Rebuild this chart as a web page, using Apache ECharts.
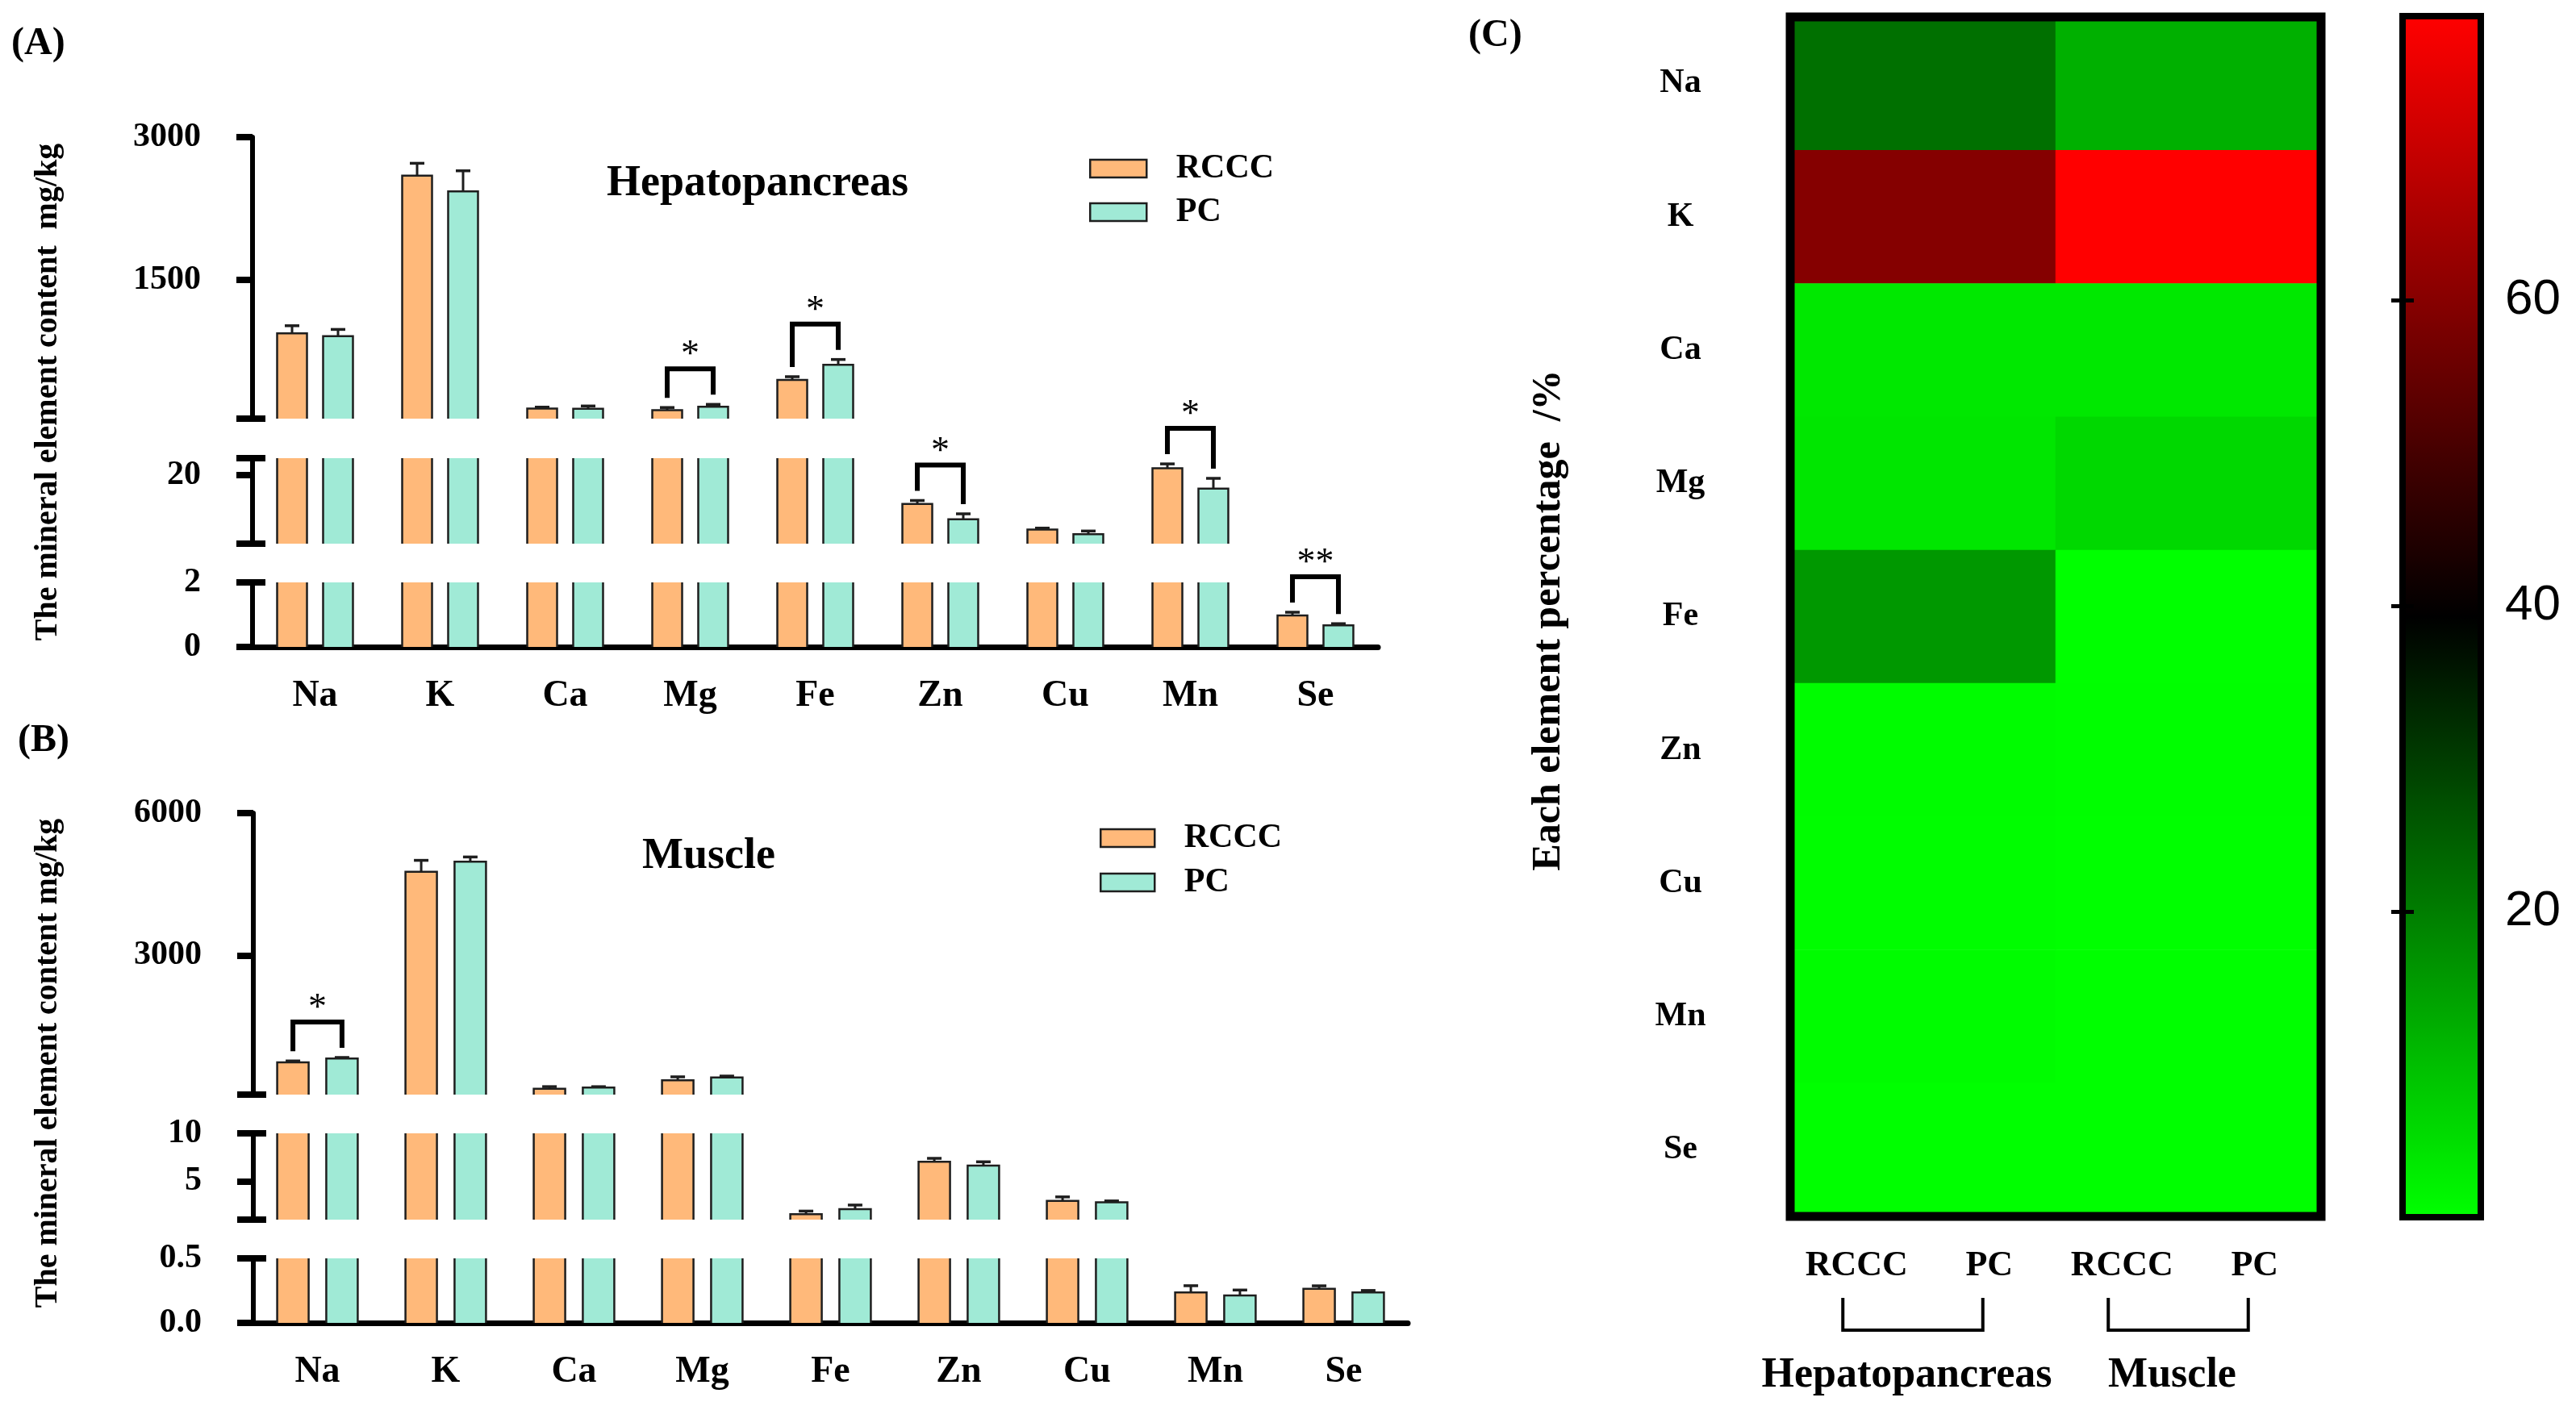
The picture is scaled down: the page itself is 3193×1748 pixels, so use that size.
<!DOCTYPE html>
<html><head><meta charset="utf-8">
<script src="https://cdn.jsdelivr.net/npm/echarts@6/dist/echarts.min.js"></script>
<style>html,body{margin:0;padding:0;background:#fff}#c{width:3193px;height:1748px}</style>
</head><body><div id="c"></div>
<script>
// ---------------- data ----------------
const elements = ['Na','K','Ca','Mg','Fe','Zn','Cu','Mn','Se'];
const groups = ['RCCC','PC'];
const hepRCCC    = [936, 2596, 146, 129, 447, 16.65, 13.66, 20.83, 0.975];
const hepRCCCErr = [81, 129, 15, 28, 34, 0.4, 0.16, 0.5, 0.1];
const hepPC      = [908, 2430, 143, 165, 606, 14.86, 13.1, 18.44, 0.67];
const hepPCErr   = [70, 216, 30, 25, 56, 0.63, 0.38, 1.2, 0.05];
const musRCCC    = [742, 4761, 183, 362, 1.56, 7.03, 2.95, 0.236, 0.264];
const musRCCCErr = [28, 242, 45, 73, 0.33, 0.36, 0.42, 0.052, 0.023];
const musPC      = [821, 4973, 210, 423, 2.1, 6.64, 2.81, 0.2125, 0.236];
const musPCErr   = [22, 101, 17, 28, 0.42, 0.39, 0.14, 0.042, 0.015];
const sigHep = ['', '', '', '*', '*', '*', '', '*', '**'];
const sigMus = ['*', '', '', '', '', '', '', '', ''];
const hepSegments   = [[40, 3000], [12, 22], [0, 2]];
const hepTickLabels = [[1500, 3000], [20], [0, 2]];
const musSegments   = [[60, 6000], [1, 10], [0, 0.5]];
const musTickLabels = [[3000, 6000], [5, 10], [0, 0.5]];
const tissues = ['Hepatopancreas', 'Muscle'];
const heatLabels = ['RCCC', 'PC', 'RCCC', 'PC'];
const heatPairs = [[0, 1], [2, 3]];
const pctHep = [22.0, 59.8, 3.5, 3.8, 15.9, 0.4, 0.3, 0.5, 0.02];
const pctMus = [12.2, 78.6, 3.5, 6.0, 0.03, 0.12, 0.05, 0.004, 0.004];
const colorMin = 0, colorMax = 78.6;
const colorTicks = [20, 40, 60];

// ---------------- style / layout ----------------
const SERIF = '"Liberation Serif","Times New Roman",serif';
const SANS = '"Liberation Sans",Arial,sans-serif';
const COLORS = ['#FFB97A', '#A0EAD6'];
const EDGE = '#1e1e1e';

const panels = [
  { left: 313, width: 1395, segs: [[170, 349], [568, 106], [722, 80]],
    ranges: hepSegments, labels: hepTickLabels, vals: [hepRCCC, hepPC], errs: [hepRCCCErr, hepPCErr],
    sig: sigHep, barW: 37, gapPct: 0.54, fmt: v => String(v), xMargin: 38 },
  { left: 314, width: 1431, segs: [[1008, 349], [1405, 107], [1560, 80]],
    ranges: musSegments, labels: musTickLabels, vals: [musRCCC, musPC], errs: [musRCCCErr, musPCErr],
    sig: sigMus, barW: 39, gapPct: 0.56, fmt: v => (v < 1 ? v.toFixed(1) : String(v)), xMargin: 38 }
];

const grid = [], xAxis = [], yAxis = [], series = [];

// bar + error bar drawn through the axis scales; the coordinate-system clip cuts it at the axis break
function barRender(side, off, barW, capHalf, fill) {
  return function (params, api) {
    const i = api.value(0), v = api.value(1), e = api.value(2);
    const pTop = api.coord([i, v]), pBase = api.coord([i, 0]), pErr = api.coord([i, v + e]);
    const x = pTop[0] + side * off;
    const xl = x - barW / 2, xr = x + barW / 2;
    return { type: 'group', children: [
      { type: 'rect', shape: { x: xl, y: pTop[1], width: barW, height: pBase[1] - pTop[1] }, style: { fill } },
      { type: 'polyline', shape: { points: [[xl, pBase[1]], [xl, pTop[1]], [xr, pTop[1]], [xr, pBase[1]]] },
        style: { stroke: EDGE, lineWidth: 2.5, fill: null } },
      { type: 'line', shape: { x1: x, y1: pTop[1], x2: x, y2: pErr[1] }, style: { stroke: EDGE, lineWidth: 3 } },
      { type: 'line', shape: { x1: x - capHalf, y1: pErr[1], x2: x + capHalf, y2: pErr[1] }, style: { stroke: EDGE, lineWidth: 3.5 } }
    ] };
  };
}
function bracketRender(off, sigs) {
  return function (params, api) {
    const i = api.value(0);
    const a = api.coord([i, api.value(1)]), b = api.coord([i, api.value(2)]);
    const xl = a[0] - off, xr = b[0] + off;
    const yl = a[1] - 12, yr = b[1] - 12;
    const yt = Math.min(yl, yr) - 32;
    return { type: 'group', children: [
      { type: 'polyline', shape: { points: [[xl, yl], [xl, yt], [xr, yt], [xr, yr]] },
        style: { stroke: '#000', lineWidth: 6, fill: null, lineJoin: 'miter' } },
      { type: 'text', x: (xl + xr) / 2, y: yt - 16,
        style: { text: sigs[i], fontSize: 46, fontFamily: SERIF, fill: '#000',
          align: 'center', verticalAlign: 'middle', textAlign: 'center', textVerticalAlign: 'middle' } }
    ] };
  };
}

panels.forEach((p) => {
  const off = (p.barW + p.barW * p.gapPct) / 2;
  const bracketSeg = elements.map((e, i) => {
    const top = Math.max(p.vals[0][i] + p.errs[0][i], p.vals[1][i] + p.errs[1][i]);
    for (let s = p.ranges.length - 1; s >= 0; s--) {
      if (top >= p.ranges[s][0] && top <= p.ranges[s][1]) return s;
    }
    return 0;
  });
  p.segs.forEach((sg, s) => {
    const g = grid.length;
    const [mn, mx] = p.ranges[s];
    grid.push({ left: p.left, width: p.width, top: sg[0], height: sg[1] });
    const isBottom = s === p.segs.length - 1;
    xAxis.push({
      type: 'category', gridIndex: g, data: elements, show: isBottom,
      axisLine: { lineStyle: { color: '#000', width: 7 } },
      axisTick: { alignWithLabel: true, length: 16, lineStyle: { color: '#000', width: 5 } },
      axisLabel: { interval: 0, fontFamily: SERIF, fontWeight: 'bold', fontSize: 46, color: '#000', margin: p.xMargin }
    });
    const outer = p.labels[s].slice();
    const inner = [];
    if (s === 0) { outer.push(mn); inner.push(mn); }
    else if (isBottom) { outer.push(mx); inner.push(mx); }
    else { outer.push(mn, mx); inner.push(mn, mx); }
    const yo = yAxis.length;
    yAxis.push({
      type: 'value', gridIndex: g, min: mn, max: mx, position: 'left',
      axisLine: { show: true, lineStyle: { color: '#000', width: 6 } },
      axisTick: { show: true, length: 20, customValues: outer, lineStyle: { color: '#000', width: 8 } },
      axisLabel: { customValues: p.labels[s], formatter: p.fmt, fontFamily: SERIF, fontWeight: 'bold',
        fontSize: 42, color: '#000', margin: 64 },
      splitLine: { show: false }
    });
    yAxis.push({
      type: 'value', gridIndex: g, min: mn, max: mx, position: 'left',
      axisLine: { show: false },
      axisTick: { show: true, inside: true, length: 16, customValues: inner, lineStyle: { color: '#000', width: 8 } },
      axisLabel: { show: false }, splitLine: { show: false }
    });
    groups.forEach((nm, k) => {
      series.push({ type: 'custom', name: nm, xAxisIndex: g, yAxisIndex: yo, clip: true, silent: true,
        encode: { x: 0, y: 1 },
        lineStyle: { width: 0.01 },
        itemStyle: { color: COLORS[k], borderColor: EDGE, borderWidth: 2.5 },
        data: elements.map((e, i) => [i, p.vals[k][i], p.errs[k][i]]),
        renderItem: barRender(k === 0 ? -1 : 1, off, p.barW, 9, COLORS[k]) });
    });
    const bData = [];
    elements.forEach((e, i) => {
      if (p.sig[i] && bracketSeg[i] === s) bData.push([i, p.vals[0][i] + p.errs[0][i], p.vals[1][i] + p.errs[1][i]]);
    });
    if (bData.length) {
      series.push({ type: 'custom', xAxisIndex: g, yAxisIndex: yo, clip: false, silent: true, z: 4,
        encode: { x: 0, y: 1 }, data: bData, renderItem: bracketRender(off, p.sig) });
    }
  });
});

// ---------------- heatmap ----------------
const gH = grid.length;
grid.push({ left: 2219, top: 21, width: 658, height: 1487, show: true, borderColor: '#000', borderWidth: 11,
  backgroundColor: 'transparent', z: 10 });
const xH = xAxis.length;
xAxis.push({ type: 'category', gridIndex: gH, data: tissues, position: 'bottom',
  axisLine: { show: false }, axisTick: { show: false },
  axisLabel: { interval: 0, fontFamily: SERIF, fontWeight: 'bold', fontSize: 52, color: '#000', margin: 172, padding: [0, 40, 0, 0] } });
const xL = xAxis.length;
xAxis.push({ type: 'category', gridIndex: gH, data: heatLabels, position: 'bottom',
  axisLine: { show: false }, axisTick: { show: false },
  axisLabel: { interval: 0, fontFamily: SERIF, fontWeight: 'bold', fontSize: 44, color: '#000', margin: 40 } });
const yH = yAxis.length;
yAxis.push({ type: 'category', gridIndex: gH, data: elements, inverse: true,
  axisLine: { show: false }, axisTick: { show: false }, splitLine: { show: false },
  axisLabel: { interval: 0, fontFamily: SERIF, fontWeight: 'bold', fontSize: 42, color: '#000', margin: 136, align: 'center' } });
const heatIndex = series.length;
const heatData = [];
elements.forEach((e, r) => { heatData.push([0, r, pctHep[r]]); heatData.push([1, r, pctMus[r]]); });
series.push({ type: 'heatmap', xAxisIndex: xH, yAxisIndex: yH, data: heatData, silent: true, z: 2,
  itemStyle: { borderWidth: 0 } });
series.push({ type: 'custom', xAxisIndex: xL, yAxisIndex: yH, clip: false, silent: true,
  data: heatPairs,
  renderItem: function (params, api) {
    const last = elements.length - 1;
    const a = api.coord([api.value(0), last]), b = api.coord([api.value(1), last]);
    const bottom = a[1] + api.size([0, 1])[1] / 2;
    const xa = a[0] - 17, xb = b[0] - 8;
    const y1 = bottom + 101, y2 = bottom + 141;
    return { type: 'polyline', shape: { points: [[xa, y1], [xa, y2], [xb, y2], [xb, y1]] },
      style: { stroke: '#000', lineWidth: 4, fill: null } };
  } });

// ---------------- colour bar ----------------
const gC = grid.length;
grid.push({ left: 2978, top: 20, width: 97, height: 1489, show: true, borderColor: '#000', borderWidth: 8,
  backgroundColor: 'transparent', z: 10 });
xAxis.push({ type: 'value', gridIndex: gC, min: 0, max: 1, show: false });
yAxis.push({ type: 'value', gridIndex: gC, min: colorMin, max: colorMax, position: 'right', z: 20,
  axisLine: { show: false }, splitLine: { show: false },
  axisTick: { show: true, inside: true, length: 14, customValues: colorTicks, lineStyle: { color: '#000', width: 5 } },
  axisLabel: { customValues: colorTicks, fontFamily: SANS, fontSize: 62, color: '#000', margin: 30 } });
yAxis.push({ type: 'value', gridIndex: gC, min: colorMin, max: colorMax, position: 'left', z: 20,
  axisLine: { show: false }, splitLine: { show: false },
  axisTick: { show: true, inside: true, length: 14, customValues: colorTicks, lineStyle: { color: '#000', width: 5 } },
  axisLabel: { show: false } });

function txt(text, x, y, size, rot, align, family, weight) {
  return { type: 'text', x, y, rotation: rot || 0, silent: true,
    style: { text, fontSize: size, fontWeight: weight || 'bold', fontFamily: family || SERIF, fill: '#000',
      align: align || 'left', verticalAlign: 'middle', textAlign: align || 'left', textVerticalAlign: 'middle' } };
}

const option = {
  animation: false,
  backgroundColor: '#fff',
  textStyle: { fontFamily: SERIF },
  grid, xAxis, yAxis, series,
  legend: [
    { data: groups, orient: 'vertical', left: 1345, top: 183, icon: 'rect', itemWidth: 70, itemHeight: 22,
      itemGap: 12, selectedMode: false, formatter: n => '   ' + n,
      itemStyle: { borderColor: EDGE, borderWidth: 2.5 },
      textStyle: { fontFamily: SERIF, fontWeight: 'bold', fontSize: 42, color: '#000', lineHeight: 42 } },
    { data: groups, orient: 'vertical', left: 1358, top: 1013, icon: 'rect', itemWidth: 67, itemHeight: 22,
      itemGap: 13, selectedMode: false, formatter: n => '   ' + n,
      itemStyle: { borderColor: EDGE, borderWidth: 2.5 },
      textStyle: { fontFamily: SERIF, fontWeight: 'bold', fontSize: 42, color: '#000', lineHeight: 42 } }
  ],
  visualMap: {
    type: 'continuous', min: colorMin, max: colorMax, seriesIndex: heatIndex, dimension: 2,
    orient: 'vertical', left: 2978, top: 20, itemWidth: 97, itemHeight: 1489, padding: 0,
    calculable: false, text: null, show: true, hoverLink: false,
    inRange: { color: ['#00ff00', '#000000', '#ff0000'] }
  },
  graphic: [
    txt('(A)', 14, 55, 48),
    txt('(B)', 22, 919, 48),
    txt('(C)', 1820, 45, 48),
    txt('Hepatopancreas', 752, 228, 54),
    txt('Muscle', 796, 1062, 54),
    txt('The mineral element content  mg/kg', 60, 486, 40, Math.PI / 2, 'center'),
    txt('The mineral element content mg/kg', 60, 1318, 40, Math.PI / 2, 'center'),
    txt('Each element percentage  /%', 1920, 769, 50, Math.PI / 2, 'center')
  ]
};

const chart = echarts.init(document.getElementById('c'));
chart.setOption(option);
</script>
</body></html>
